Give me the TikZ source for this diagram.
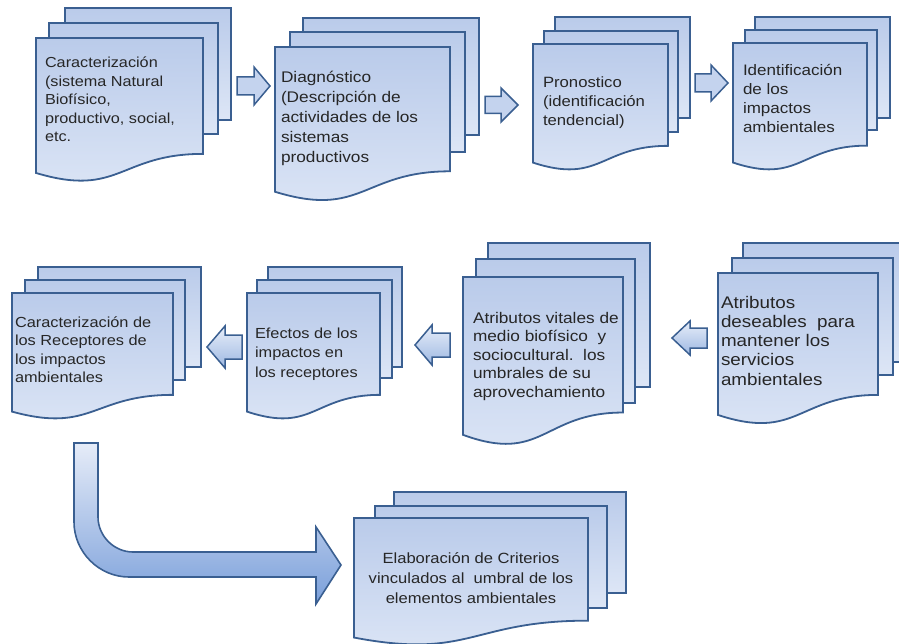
\documentclass[tikz,border=0pt]{standalone}
\usepackage{fontspec}
\setmainfont[FakeStretch=1.12]{Liberation Sans}
\definecolor{docline}{HTML}{3A5F91}
\definecolor{pagetop}{HTML}{BACBEA}
\definecolor{pagebot}{HTML}{DDE6F6}
\definecolor{arrfill}{HTML}{C4D3EE}
\definecolor{arrtop}{HTML}{E8EEF9}
\definecolor{arrbot}{HTML}{9DB8E2}
\definecolor{bigtop}{HTML}{E6ECF8}
\definecolor{bigbot}{HTML}{7A9FDA}
\definecolor{txtcol}{HTML}{262626}
\tikzset{
  page/.style={draw=docline, line width=1.8pt, top color=pagetop, bottom color=pagebot, line join=miter},
  arrowR/.style={draw=docline, line width=1.5pt, fill=arrfill, line join=miter},
  arrowL/.style={draw=docline, line width=1.5pt, top color=arrtop, bottom color=arrbot, line join=miter},
  bigarrow/.style={draw=docline, line width=1.6pt, top color=bigtop, bottom color=bigbot, line join=miter},
  txt/.style={inner sep=0pt, outer sep=0pt, text=txtcol}
}
% back and middle pages: bx by br bb mx my mr mb
\newcommand\backpages[8]{%
  \path[page] (#1,#2) rectangle (#3,#4);
  \path[page] (#5,#6) rectangle (#7,#8);}
% front page: name fx fy fr H
\newcommand\frontpage[5]{%
  \pgfmathsetmacro\fmx{(#2+#4)/2}%
  \pgfmathsetmacro\fyr{#3+0.802*#5}%
  \pgfmathsetmacro\fyc{#3+1.1075*#5}%
  \pgfmathsetmacro\fyl{#3+0.934*#5}%
  \path[page] (#2,#3) -- (#4,#3) -- (#4,\fyr) .. controls (\fmx,\fyr) and (\fmx,\fyc) .. (#2,\fyl) -- cycle;
  \coordinate (#1) at (#2,#3);}
% block arrow: style back head tip cy headhalf shafthalf
\newcommand\blockarr[7]{%
  \path[#1] (#2,#5-#7) -- (#3,#5-#7) -- (#3,#5-#6) -- (#4,#5) -- (#3,#5+#6) -- (#3,#5+#7) -- (#2,#5+#7) -- cycle;}
% text: name x y size skip lines
\newcommand\doctext[6]{%
  \node[txt, anchor=base west] (#1) at (#2,#3) {\fontsize{#4}{#5}\selectfont\vtop{\halign{##\hfil\cr#6\crcr}}};}
\newcommand\doctextc[6]{%
  \node[txt, anchor=base] (#1) at (#2,#3) {\fontsize{#4}{#5}\selectfont\vtop{\halign{\hfil##\hfil\cr#6\crcr}}};}
\begin{document}
\begin{tikzpicture}[x=1pt,y=-1pt]
\useasboundingbox (0,0) rectangle (899,644);
\begin{scope}
\clip (0,0) rectangle (899,644);
% ---- row 1 ----
\backpages{65}{8}{231}{120}{49}{23}{218}{134}
\frontpage{b1}{36}{38}{203}{144.5}
\doctext{t1}{45}{68}{14.5}{18.5}{Caracterización\cr (sistema Natural\cr Biofísico,\cr productivo, social,\cr etc.}

\backpages{303}{18}{479}{135}{290}{32}{465}{152}
\frontpage{b2}{275}{47}{450}{155}
\doctext{t2}{281}{83}{15.4}{19.8}{Diagnóstico\cr (Descripción de\cr actividades de los\cr sistemas\cr productivos}

\backpages{555}{17}{690}{118}{544}{31}{678}{132}
\frontpage{b3}{533}{44}{668}{127}
\doctext{t3}{543}{88}{14.9}{19}{Pronostico\cr (identificación\cr tendencial)}

\backpages{755}{17}{890}{118}{745}{30}{877}{130}
\frontpage{b4}{733}{43}{867}{128}
\doctext{t4}{743}{76}{15.2}{19}{Identificación\cr de los\cr impactos\cr ambientales}

\blockarr{arrowR}{237}{254}{270}{86}{19}{9}
\blockarr{arrowR}{485}{501}{518}{105}{17}{8.5}
\blockarr{arrowR}{695}{711}{728}{83}{18}{9}

% ---- row 2 ----
\backpages{38}{267}{201}{367}{25}{280}{185}{380}
\frontpage{b5}{12}{293}{173}{127}
\doctext{t5}{15}{327}{14.6}{18.5}{Caracterización de\cr los Receptores de\cr los impactos\cr ambientales}

\backpages{268}{267}{402}{367}{257}{280}{392}{378}
\frontpage{b6}{247}{293}{380}{127}
\doctext{t6}{255}{338}{14.6}{19.5}{Efectos de los\cr impactos en\cr los receptores}

\backpages{488}{243}{650}{387}{476}{259}{635}{403}
\frontpage{b7}{463}{277}{623}{169}
\doctext{t7}{473}{323}{15.4}{18.5}{Atributos vitales de\cr medio biofísico\ \ y\cr sociocultural.\ \ los\cr umbrales de su\cr aprovechamiento}

\backpages{743}{243}{906}{362}{732}{258}{893}{375}
\frontpage{b8}{718}{273}{878}{152}
\doctext{t8}{721}{308}{16.8}{19.3}{Atributos\cr deseables\ \ para\cr mantener los\cr servicios\cr ambientales}

\blockarr{arrowL}{242}{225}{207}{347}{21}{12}
\blockarr{arrowL}{450}{432}{415}{345}{20}{12}
\blockarr{arrowL}{707}{690}{672}{338}{17}{10}

% ---- row 3 ----
\backpages{394}{492}{626}{593}{375}{506}{607}{608}
\frontpage{b9}{354}{518}{588}{128}
\doctextc{t9}{471}{563}{14.8}{20}{Elaboración de Criterios\cr vinculados al\ \ umbral de los\cr elementos ambientales}

\path[bigarrow] (74,443) -- (74,522) .. controls (74,552) and (99,577) .. (129,577)
  -- (316,577) -- (316,604) -- (341,565) -- (316,527) -- (316,552) -- (133,552)
  .. controls (114,552) and (98,536) .. (98,517) -- (98,443) -- cycle;
\end{scope}
\end{tikzpicture}
\end{document}
